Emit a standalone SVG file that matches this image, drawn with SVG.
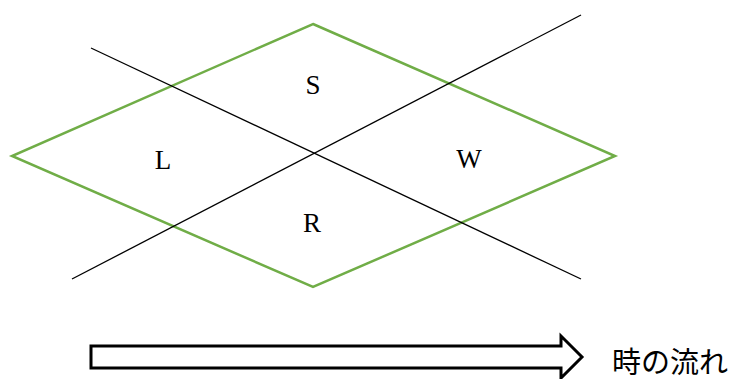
<svg xmlns="http://www.w3.org/2000/svg" width="737" height="379" viewBox="0 0 737 379">
<style>
.lbl{font-family:"Liberation Serif","DejaVu Serif",serif;font-size:27px;fill:#000;text-anchor:middle}
.jp{font-family:"Liberation Serif","Noto Sans CJK JP",sans-serif;font-size:29px;fill:#000}
.ln{stroke:#000;stroke-width:1.3;fill:none}
</style>
<rect width="737" height="379" fill="#fff"/>
<g id="diamond">
<polygon points="313,24 615,156 313,287 12,156" fill="none" stroke="#70AD47" stroke-width="2.5" stroke-linejoin="miter"/>
</g>
<g id="connectors">
<line class="ln" x1="91" y1="48" x2="581" y2="279"/>
<line class="ln" x1="72" y1="279" x2="581" y2="15"/>
</g>
<g id="S"><text class="lbl" x="313" y="94">S</text></g>
<g id="L"><text class="lbl" x="163" y="169">L</text></g>
<g id="W"><text class="lbl" x="469" y="168">W</text></g>
<g id="R"><text class="lbl" x="312" y="232">R</text></g>
<g id="arrow">
<polygon points="91,346 561,346 561,336 582,357 561,378 561,368 91,368" fill="#fff" stroke="#000" stroke-width="3" stroke-linejoin="miter"/>
</g>
<g id="time"><text class="jp" x="612" y="373">時の流れ</text></g>
</svg>
